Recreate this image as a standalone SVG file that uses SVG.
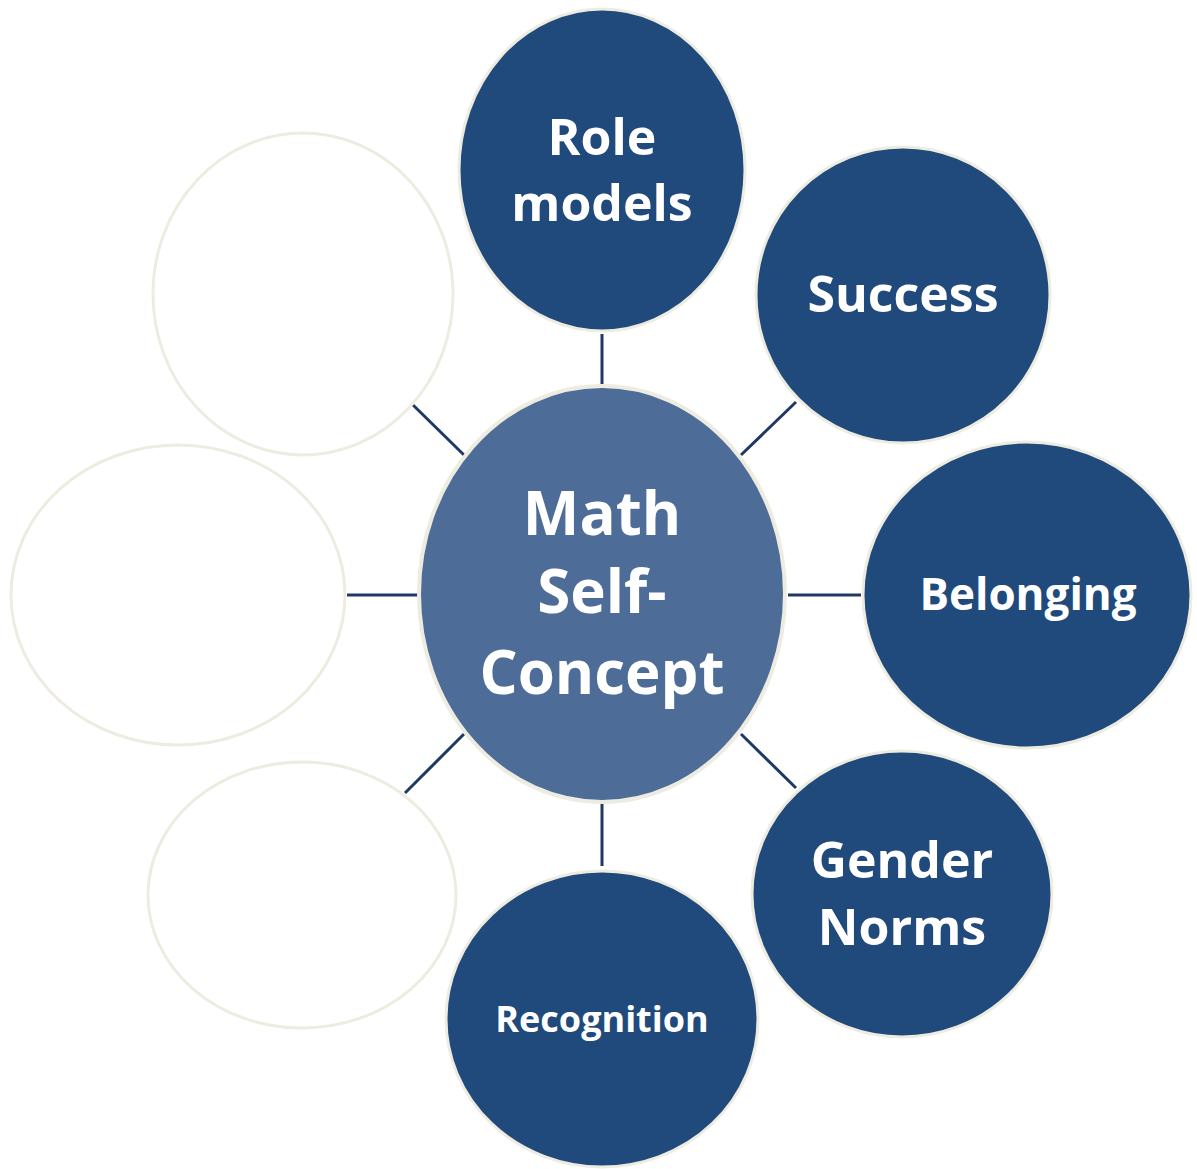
<svg xmlns="http://www.w3.org/2000/svg" width="1197" height="1169" viewBox="0 0 1197 1169">
<style>
.dark{fill:#204a7c;stroke:#eeece1;stroke-width:3}
.center{fill:#4d6d98;stroke:#eeece1;stroke-width:4}
.empty{fill:#ffffff;stroke:#eeece1;stroke-width:3}
.conn line{stroke:#1f3864;stroke-width:3}
text{font-family:"Open Sans","Liberation Sans",sans-serif;font-weight:bold;fill:#ffffff;text-anchor:middle}
</style>
<rect width="1197" height="1169" fill="#ffffff"/>
<g id="connectors" class="conn">
<line x1="602" y1="334" x2="602" y2="384"/>
<line x1="741" y1="455" x2="796" y2="402"/>
<line x1="788" y1="595" x2="861" y2="595"/>
<line x1="741" y1="734" x2="796" y2="788"/>
<line x1="602" y1="804" x2="602" y2="866"/>
<line x1="464" y1="734" x2="405" y2="793"/>
<line x1="347" y1="595" x2="418" y2="595"/>
<line x1="413" y1="405" x2="464" y2="455"/>
</g>
<g id="empty-top-left"><ellipse class="empty" cx="303" cy="294" rx="150" ry="161"/></g>
<g id="empty-left"><ellipse class="empty" cx="178" cy="595" rx="167" ry="150"/></g>
<g id="empty-bottom-left"><ellipse class="empty" cx="302" cy="895" rx="154" ry="133"/></g>
<g id="role-models"><ellipse class="dark" cx="602" cy="170" rx="143" ry="161"/>
<text x="602" y="155" font-size="50">Role</text><text x="602" y="221" font-size="50">models</text></g>
<g id="success"><ellipse class="dark" cx="903" cy="295" rx="147" ry="148"/>
<text x="903" y="312" font-size="50">Success</text></g>
<g id="belonging"><ellipse class="dark" cx="1027" cy="595" rx="164" ry="153"/>
<text x="1028" y="610" font-size="44">Belonging</text></g>
<g id="gender-norms"><ellipse class="dark" cx="902" cy="894" rx="150" ry="143"/>
<text x="902" y="878" font-size="50">Gender</text><text x="902" y="945" font-size="50">Norms</text></g>
<g id="recognition"><ellipse class="dark" cx="602" cy="1019" rx="156" ry="148"/>
<text x="602" y="1032" font-size="36">Recognition</text></g>
<g id="math-self-concept"><ellipse class="center" cx="602" cy="594" rx="183" ry="208"/>
<text x="602" y="535" font-size="60">Math</text><text x="602" y="613" font-size="60">Self-</text><text x="602" y="694" font-size="60">Concept</text></g>
</svg>
